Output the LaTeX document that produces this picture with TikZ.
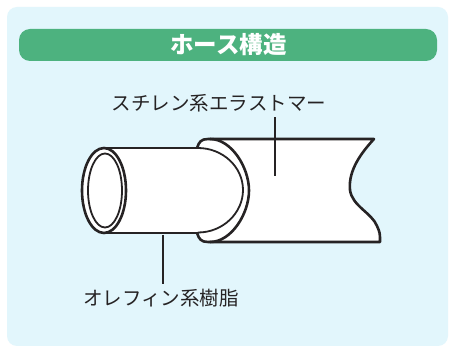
\documentclass[tikz,border=0pt]{standalone}
\usepackage{fontspec}
\newfontfamily\jp{Noto Sans CJK JP}
\definecolor{panelblue}{HTML}{E2F6FC}
\definecolor{bargreen}{HTML}{4DB27F}
\definecolor{ink}{HTML}{262324}
\begin{document}
\begin{tikzpicture}[x=1pt,y=-1pt,
  thickline/.style={draw=ink,line width=2.6pt,line cap=round,line join=round},
  thinline/.style={draw=ink,line width=1.8pt,line cap=round},
  leader/.style={draw=ink,line width=1.5pt},
  label/.style={font=\jp\fontsize{19.5}{22}\selectfont,text=ink,inner sep=0pt},
  title/.style={font=\jp\bfseries\fontsize{23.5}{26}\selectfont,text=white,inner sep=0pt}]
  \useasboundingbox (0,0) rectangle (458,347);
  % panel and title bar
  \fill[white] (0,0) rectangle (458,347);
  \fill[panelblue,rounded corners=10pt] (7,7) rectangle (448,346);
  \fill[bargreen,rounded corners=11pt] (19,29) rectangle (437,61);
  \node[title] (head) at (228.5,45) {ホース構造};

  % outer tube (styrene elastomer)
  \fill[white] (200,139) -- (374,139)
    .. controls (362,152) and (348,170) .. (350,190)
    .. controls (352,206) and (372,213) .. (377,226)
    .. controls (380,233) .. (380,242) -- (200,242) -- cycle;
  \draw[thickline] (197,148) .. controls (199,142) and (201,139) .. (208,139) -- (374,139)
    .. controls (362,152) and (348,170) .. (350,190)
    .. controls (352,206) and (372,213) .. (377,226)
    .. controls (380,233) .. (380,242) -- (208,242)
    .. controls (201,242) and (199,239) .. (197,233);

  % inner tube (olefin resin)
  \fill[white] (104,148) rectangle (243,232);
  \fill[white] (104,190.5) ellipse [x radius=22, y radius=42.5];
  \draw[thickline] (104,148) -- (198,148);
  \draw[thickline] (104,233) -- (198,233);
  % end face of the outer tube
  \draw[thickline] (210,139) .. controls (231.5,139) and (249,167.5) .. (249,190.5)
    .. controls (249,213.5) and (231.5,242) .. (210,242);
  \draw[thinline] (198,148) .. controls (222.8,148) and (243,167) .. (243,190)
    .. controls (243,213) and (222.8,232.5) .. (198,232.5);
  % open end of the inner tube
  \draw[thickline] (104,190.5) ellipse [x radius=22, y radius=42.5];
  \draw[thinline] (105,190.5) ellipse [x radius=17, y radius=37];

  % labels and leaders
  \node[label] (lblA) at (219,103) {スチレン系エラストマー};
  \node[label] (lblB) at (161,298) {オレフィン系樹脂};
  \coordinate (tipA) at (275,176);
  \coordinate (tipB) at (163,235);
  \draw[leader] ([yshift=-5pt]lblA.south -| tipA) -- (tipA);
  \draw[leader] (tipB) -- ([yshift=5pt]lblB.north -| tipB);
\end{tikzpicture}
\end{document}
